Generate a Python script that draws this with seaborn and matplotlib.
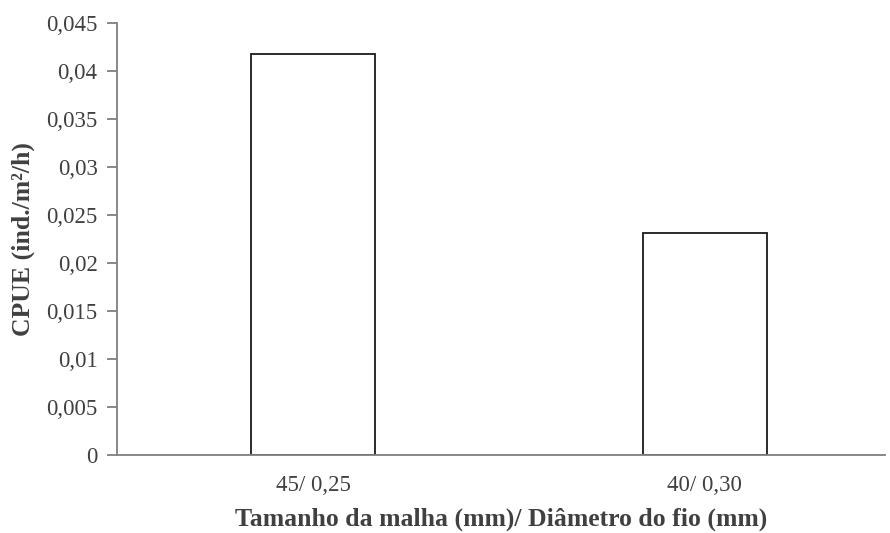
import seaborn as sns
import matplotlib.pyplot as plt
import matplotlib.ticker as mticker

# dados
categorias = ['45/ 0,25', '40/ 0,30']
cpue = [0.0418, 0.0231]

sns.set_style('white')
plt.rcParams['font.family'] = ['Liberation Serif', 'DejaVu Serif']

fig = plt.figure(figsize=(8.9, 5.33), dpi=100)
ax = fig.add_axes([0.1315, 0.1463, 0.863, 0.8105])

sns.barplot(x=categorias, y=cpue, color='white', edgecolor='#1a1a1a',
            linewidth=1.3, width=0.315, ax=ax, saturation=1)

ax.set_xlim(-0.5, 1.46)
ax.set_ylim(0, 0.045)
ax.yaxis.set_major_locator(mticker.MultipleLocator(0.005))
ax.yaxis.set_major_formatter(mticker.FuncFormatter(
    lambda v, p: '0' if abs(v) < 1e-12 else f'{v:.3f}'.rstrip('0').replace('.', ',')))

for lado in ['top', 'right']:
    ax.spines[lado].set_visible(False)
for lado in ['left', 'bottom']:
    ax.spines[lado].set_color('#7f7f7f')
    ax.spines[lado].set_linewidth(1.3)

ax.tick_params(axis='y', which='major', left=True, length=7, width=1.3,
               color='#7f7f7f', labelsize=16.5, labelcolor='#404040', pad=7)
ax.tick_params(axis='x', bottom=False, labelsize=16.5, labelcolor='#404040', pad=11)

ax.set_xlabel('Tamanho da malha (mm)/ Diâmetro do fio (mm)', fontsize=18.5,
              fontweight='bold', color='#404040', labelpad=8)
ax.set_ylabel('CPUE (ind./m²/h)', fontsize=18.5, fontweight='bold',
              color='#404040', labelpad=8)

fig.savefig('out.png', dpi=100)
